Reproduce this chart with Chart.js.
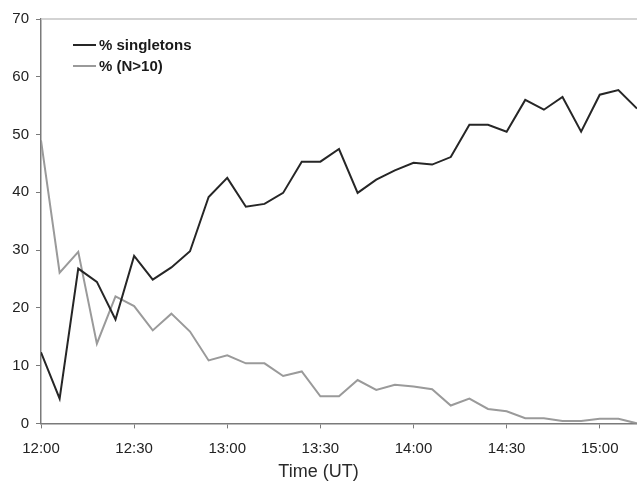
<!DOCTYPE html>
<html>
<head>
<meta charset="utf-8">
<script src="https://cdn.jsdelivr.net/npm/chart.js@4/dist/chart.umd.min.js"></script>
<style>
	html, body { margin: 0; padding: 0; background: #fff; }
	#wrap { width: 637px; height: 483px; }
</style>
</head>
<body>
<div id="wrap"><canvas id="chart" width="637" height="483"></canvas></div>
<script>
// sample times, every 6 minutes
const times = ['12:00', '12:06', '12:12', '12:18', '12:24', '12:30', '12:36', '12:42', '12:48', '12:54',
	'13:00', '13:06', '13:12', '13:18', '13:24', '13:30', '13:36', '13:42', '13:48', '13:54',
	'14:00', '14:06', '14:12', '14:18', '14:24', '14:30', '14:36', '14:42', '14:48', '14:54',
	'15:00', '15:06', '15:12'];

const singletons = [12.3, 4.3, 26.8, 24.5, 18.0, 29.0, 24.9, 27.0, 29.8, 39.2,
	42.5, 37.5, 38.0, 39.9, 45.3, 45.3, 47.5, 39.9, 42.2, 43.8,
	45.1, 44.8, 46.1, 51.7, 51.7, 50.5, 56.0, 54.3, 56.5, 50.5,
	56.9, 57.7, 54.5];

const overTen = [49.0, 26.1, 29.7, 13.8, 22.0, 20.3, 16.1, 19.0, 15.9, 10.9,
	11.8, 10.4, 10.4, 8.2, 9.0, 4.7, 4.7, 7.5, 5.8, 6.7,
	6.4, 5.9, 3.1, 4.3, 2.5, 2.1, 0.9, 0.9, 0.4, 0.4,
	0.8, 0.8, 0.0];

const seriesNames = ['% singletons', '% (N>10)'];
const xTicks = ['12:00', '12:30', '13:00', '13:30', '14:00', '14:30', '15:00'];

const toMin = t => {
	const [h, m] = t.split(':').map(Number);
	return (h - 12) * 60 + m;
};
const fromMin = v => {
	const h = 12 + Math.floor(v / 60);
	const m = v % 60;
	return h + ':' + String(m).padStart(2, '0');
};

const font = 'Liberation Sans, Arial, sans-serif';

// legend inside the plot, top-left
const innerLegend = {
	id: 'innerLegend',
	afterDraw(chart) {
		const ctx = chart.ctx;
		ctx.save();
		ctx.font = 'bold 15px ' + font;
		ctx.textBaseline = 'middle';
		chart.data.datasets.forEach((ds, i) => {
			const y = 45 + i * 21;
			ctx.strokeStyle = ds.borderColor;
			ctx.lineWidth = ds.borderWidth;
			ctx.beginPath();
			ctx.moveTo(73, y);
			ctx.lineTo(96, y);
			ctx.stroke();
			ctx.fillStyle = '#1a1a1a';
			ctx.fillText(ds.label, 99, y + 1);
		});
		ctx.restore();
	}
};

// light frame line along the top of the plot
const topFrame = {
	id: 'topFrame',
	beforeDatasetsDraw(chart) {
		const { ctx, chartArea } = chart;
		ctx.save();
		ctx.strokeStyle = '#c4c4c4';
		ctx.lineWidth = 1.5;
		ctx.beginPath();
		ctx.moveTo(chartArea.left, chartArea.top);
		ctx.lineTo(chartArea.right, chartArea.top);
		ctx.stroke();
		ctx.restore();
	}
};

const ctx = document.getElementById('chart').getContext('2d');
new Chart(ctx, {
	type: 'line',
	data: {
		datasets: [{
			label: seriesNames[0],
			data: times.map((t, i) => ({ x: toMin(t), y: singletons[i] })),
			borderColor: '#262626',
			borderWidth: 2,
			pointRadius: 0,
			tension: 0
		}, {
			label: seriesNames[1],
			data: times.map((t, i) => ({ x: toMin(t), y: overTen[i] })),
			borderColor: '#9a9a9a',
			borderWidth: 2,
			pointRadius: 0,
			tension: 0
		}]
	},
	options: {
		responsive: false,
		animation: false,
		layout: { padding: { top: 19, right: 0, left: 0, bottom: 0 } },
		plugins: {
			legend: { display: false },
			tooltip: { enabled: false },
			title: {
				display: true,
				position: 'bottom',
				text: 'Time (UT)',
				color: '#2a2a2a',
				font: { family: font, size: 18, weight: 'normal' },
				padding: { top: 6, bottom: 0 }
			}
		},
		scales: {
			x: {
				type: 'linear',
				min: 0,
				max: toMin(times[times.length - 1]),
				afterBuildTicks(scale) {
					scale.ticks = xTicks.map(t => ({ value: toMin(t) }));
				},
				afterFit(scale) { scale.height = 32; },
				ticks: {
					callback: v => fromMin(v),
					color: '#222',
					font: { family: font, size: 15 },
					padding: 11,
					maxRotation: 0,
					autoSkip: false
				},
				grid: { drawOnChartArea: false, drawTicks: true, tickLength: 5, color: '#7a7a7a' },
				border: { color: '#7a7a7a', width: 1.5 }
			},
			y: {
				min: 0,
				max: 70,
				afterFit(scale) { scale.width = 41; },
				ticks: {
					stepSize: 10,
					color: '#222',
					font: { family: font, size: 15 },
					padding: 7
				},
				grid: { drawOnChartArea: false, drawTicks: true, tickLength: 5, color: '#7a7a7a' },
				border: { color: '#7a7a7a', width: 1.5 }
			}
		}
	},
	plugins: [topFrame, innerLegend]
});
</script>
</body>
</html>
